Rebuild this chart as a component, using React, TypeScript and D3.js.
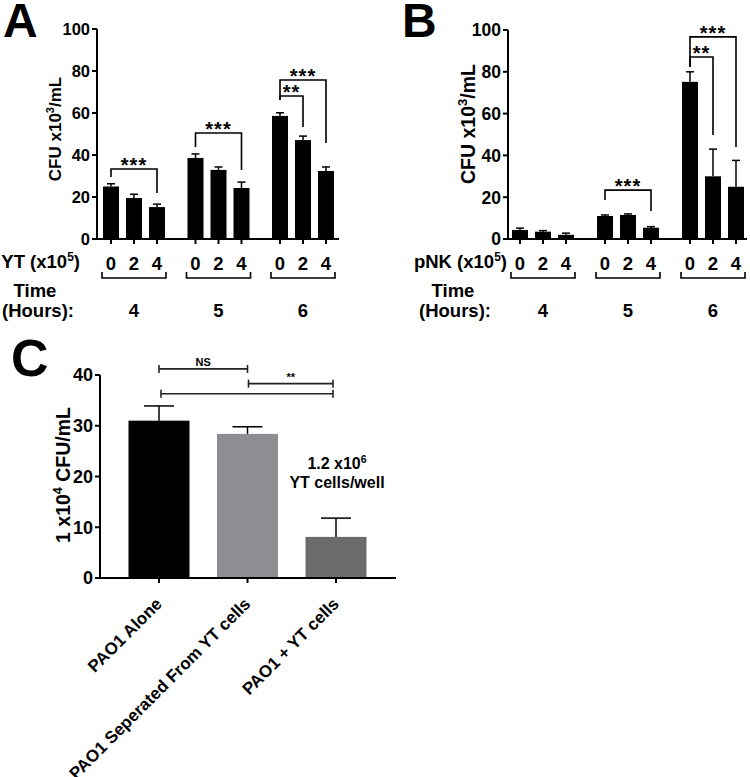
import React from "react";
import * as d3 from "d3";

const FONT = "'Liberation Sans', Arial, Helvetica, sans-serif";

// ---------- Panels A & B data ----------
const doses = ["0", "2", "4"];
const hours = ["4", "5", "6"];
const yTicksAB = [0, 20, 40, 60, 80, 100];

const ytMean = [
  [25, 19.5, 15.2],
  [38.6, 32.9, 24.3],
  [58.6, 47.1, 32.4],
];
const ytErr = [
  [1.3, 1.8, 1.4],
  [1.9, 1.4, 2.8],
  [1.5, 1.9, 1.9],
];
const pnkMean = [
  [4.3, 3.5, 2.0],
  [11.0, 11.5, 5.4],
  [75.2, 30.0, 25.0],
];
const pnkErr = [
  [0.9, 0.5, 0.8],
  [0.5, 0.5, 0.5],
  [4.8, 13.0, 12.6],
];

type Sig = { g: number; a: number; b: number; top: number; left: number; right: number; label: string };

const sigA: Sig[] = [
  { g: 0, a: 0, b: 2, top: 33.3, left: 29.5, right: 21.9, label: "***" },
  { g: 1, a: 0, b: 2, top: 50.5, left: 43.8, right: 32.9, label: "***" },
  { g: 2, a: 0, b: 2, top: 75.7, left: 66.2, right: 45.7, label: "***" },
  { g: 2, a: 0, b: 1, top: 68.1, left: 66.2, right: 53.3, label: "**" },
];
const sigB: Sig[] = [
  { g: 1, a: 0, b: 2, top: 23.4, left: 18.7, right: 13.4, label: "***" },
  { g: 2, a: 0, b: 2, top: 96.7, left: 82.3, right: 44.0, label: "***" },
  { g: 2, a: 0, b: 1, top: 87.1, left: 82.3, right: 49.8, label: "**" },
];

// ---------- Panel C data ----------
const cCats = ["PAO1 Alone", "PAO1 Seperated From YT cells", "PAO1 + YT cells"];
const cMean = [31.0, 28.4, 8.1];
const cErr = [2.9, 1.4, 3.7];
const cColors = ["#000000", "#8e8e92", "#6c6c6c"];
const cTicks = [0, 10, 20, 30, 40];
const cSig = [
  { a: 0, b: 1, level: 41.2, label: "NS" },
  { a: 1, b: 2, level: 38.3, label: "**" },
  { a: 0, b: 2, level: 36.3, label: "" },
];

type PanelCfg = {
  letter: string;
  letterX: number;
  axisX: number;
  xEnd: number;
  yTop: number;
  yBottom: number;
  groupRange: [number, number];
  spread: number;
  barW: number;
  means: number[][];
  errs: number[][];
  sigs: Sig[];
  tickFont: number;
  yLabelFont: number;
  yLabelX: number;
  yLabelY: number;
  doseLabel: string;
  doseLabelEnd: number;
  timeX: number;
  hoursX: number;
};

function GroupedPanel(p: PanelCfg) {
  const y = d3.scaleLinear().domain([0, 100]).range([p.yBottom, p.yTop]);
  const gx = d3.scalePoint<string>().domain(hours).range(p.groupRange);
  const dx = d3.scalePoint<string>().domain(doses).range([-p.spread, p.spread]);
  const bx = (g: number, d: number) => (gx(hours[g]) as number) + (dx(doses[d]) as number);
  const sw = 2;
  const supF = Math.round(p.yLabelFont * 0.65);
  return (
    <g fontFamily={FONT} fontWeight="bold" fill="#000">
      <text x={p.letterX} y={37} fontSize={48}>{p.letter}</text>
      {/* bars */}
      {p.means.map((row, g) =>
        row.map((v, d) => {
          const cx = bx(g, d);
          const top = y(v + p.errs[g][d]);
          return (
            <g key={`b${g}${d}`}>
              <rect x={cx - p.barW / 2} y={y(v)} width={p.barW} height={y(0) - y(v)} fill="#000" />
              <line x1={cx} x2={cx} y1={y(v)} y2={top} stroke="#000" strokeWidth={1.5} />
              <line x1={cx - 4} x2={cx + 4} y1={top} y2={top} stroke="#000" strokeWidth={1.5} />
            </g>
          );
        })
      )}
      {/* axes */}
      <line x1={p.axisX} x2={p.axisX} y1={p.yTop} y2={p.yBottom + 1} stroke="#000" strokeWidth={sw} />
      <line x1={p.axisX - 1} x2={p.xEnd} y1={p.yBottom} y2={p.yBottom} stroke="#000" strokeWidth={sw} />
      {yTicksAB.map((t) => (
        <g key={`t${t}`}>
          <line x1={p.axisX - 5} x2={p.axisX} y1={y(t)} y2={y(t)} stroke="#000" strokeWidth={sw} />
          <text x={p.axisX - 7} y={y(t)} dy="0.36em" textAnchor="end" fontSize={p.tickFont}>{t}</text>
        </g>
      ))}
      {hours.map((h, g) =>
        doses.map((d, di) => (
          <line key={`xt${g}${di}`} x1={bx(g, di)} x2={bx(g, di)} y1={p.yBottom} y2={p.yBottom + 5} stroke="#000" strokeWidth={sw} />
        ))
      )}
      {/* y label */}
      <text transform={`translate(${p.yLabelX},${p.yLabelY}) rotate(-90)`} textAnchor="middle" fontSize={p.yLabelFont}>
        CFU x10<tspan dy={-p.yLabelFont * 0.4} fontSize={supF}>3</tspan>
        <tspan dy={p.yLabelFont * 0.4}>/mL</tspan>
      </text>
      {/* significance brackets */}
      {p.sigs.map((s, i) => {
        const x1 = bx(s.g, s.a);
        const x2 = bx(s.g, s.b);
        const yt = y(s.top);
        return (
          <g key={`s${i}`}>
            <path
              d={`M${x1},${y(s.left)}V${yt}H${x2}V${y(s.right)}`}
              fill="none"
              stroke="#000"
              strokeWidth={1.6}
            />
            <text x={(x1 + x2) / 2} y={yt + 3} textAnchor="middle" fontSize={20} letterSpacing={1}>{s.label}</text>
          </g>
        );
      })}
      {/* x labels */}
      <text x={p.doseLabelEnd} y={268} textAnchor="end" fontSize={18.5}>
        {p.doseLabel} (x10<tspan dy={-7} fontSize={12}>5</tspan><tspan dy={7}>)</tspan>
      </text>
      {hours.map((h, g) => (
        <g key={`xl${g}`}>
          {doses.map((d, di) => (
            <text key={di} x={bx(g, di)} y={270} textAnchor="middle" fontSize={18.5}>{d}</text>
          ))}
          <path
            d={`M${bx(g, 0) - p.barW / 2 - 1},272V278H${bx(g, 2) + p.barW / 2 + 1}V272`}
            fill="none"
            stroke="#000"
            strokeWidth={1.6}
          />
          <text x={gx(h)} y={317} textAnchor="middle" fontSize={18.5}>{h}</text>
        </g>
      ))}
      <text x={p.timeX} y={297} textAnchor="middle" fontSize={18.5}>Time</text>
      <text x={p.hoursX} y={317} textAnchor="middle" fontSize={18.5}>(Hours):</text>
    </g>
  );
}

function PanelC() {
  const y = d3.scaleLinear().domain([0, 40]).range([578, 375]);
  const x = d3.scalePoint<string>().domain(cCats).range([159, 336]);
  const barW = 61;
  const axisX = 100;
  return (
    <g fontFamily={FONT} fontWeight="bold" fill="#000">
      <text x={11} y={376} fontSize={52}>C</text>
      {cCats.map((c, i) => {
        const cx = x(c) as number;
        const top = y(cMean[i] + cErr[i]);
        return (
          <g key={c}>
            <rect x={cx - barW / 2} y={y(cMean[i])} width={barW} height={y(0) - y(cMean[i])} fill={cColors[i]} />
            <line x1={cx} x2={cx} y1={y(cMean[i])} y2={top} stroke="#000" strokeWidth={1.5} />
            <line x1={cx - 15} x2={cx + 15} y1={top} y2={top} stroke="#000" strokeWidth={1.5} />
          </g>
        );
      })}
      <line x1={axisX} x2={axisX} y1={375} y2={579} stroke="#000" strokeWidth={2} />
      <line x1={axisX - 1} x2={396} y1={578} y2={578} stroke="#000" strokeWidth={2} />
      {cTicks.map((t) => (
        <g key={t}>
          <line x1={axisX - 5} x2={axisX} y1={y(t)} y2={y(t)} stroke="#000" strokeWidth={2} />
          <text x={axisX - 7} y={y(t)} dy="0.36em" textAnchor="end" fontSize={18}>{t}</text>
        </g>
      ))}
      {cCats.map((c) => {
        const cx = x(c) as number;
        return (
          <g key={`xl${c}`}>
            <line x1={cx} x2={cx} y1={578} y2={583} stroke="#000" strokeWidth={2} />
            <text transform={`translate(${cx + 4},${605}) rotate(-45)`} textAnchor="end" fontSize={17}>{c}</text>
          </g>
        );
      })}
      <text transform={`translate(70,475) rotate(-90)`} textAnchor="middle" fontSize={19.5}>
        1 x10<tspan dy={-8} fontSize={12.5}>4</tspan>
        <tspan dy={8}> CFU/mL</tspan>
      </text>
      {cSig.map((s, i) => {
        const x1 = (x(cCats[s.a]) as number) + (i === 2 ? 2 : i === 1 ? 1 : 0);
        const x2 = (x(cCats[s.b]) as number) - (s.b === 2 ? 3 : 0);
        const yl = y(s.level);
        return (
          <g key={`cs${i}`}>
            <line x1={x1} x2={x2} y1={yl} y2={yl} stroke="#222" strokeWidth={1.6} />
            <line x1={x1} x2={x1} y1={yl - 4} y2={yl + 4} stroke="#222" strokeWidth={1.6} />
            <line x1={x2} x2={x2} y1={yl - 4} y2={yl + 4} stroke="#222" strokeWidth={1.6} />
            {s.label && (
              <text x={(x1 + x2) / 2} y={yl - 3} textAnchor="middle" fontSize={11}>{s.label}</text>
            )}
          </g>
        );
      })}
      <text x={337} y={469} textAnchor="middle" fontSize={16}>
        1.2 x10<tspan dy={-6} fontSize={10.5}>6</tspan>
      </text>
      <text x={337} y={488} textAnchor="middle" fontSize={16}>YT cells/well</text>
    </g>
  );
}

export default function App() {
  return (
    <svg
      width={750}
      height={777}
      viewBox="0 0 750 777"
      style={{ position: "absolute", left: 0, top: 0, background: "#fff" }}
    >
      <rect width={750} height={777} fill="#fff" />
      <GroupedPanel
        letter="A"
        letterX={3}
        axisX={97}
        xEnd={339}
        yTop={29}
        yBottom={239}
        groupRange={[134, 303]}
        spread={23}
        barW={16}
        means={ytMean}
        errs={ytErr}
        sigs={sigA}
        tickFont={16.5}
        yLabelFont={17}
        yLabelX={61}
        yLabelY={129}
        doseLabel="YT"
        doseLabelEnd={80}
        timeX={35}
        hoursX={38}
      />
      <GroupedPanel
        letter="B"
        letterX={402}
        axisX={508}
        xEnd={747}
        yTop={30}
        yBottom={239}
        groupRange={[543, 713]}
        spread={23}
        barW={16}
        means={pnkMean}
        errs={pnkErr}
        sigs={sigB}
        tickFont={17.5}
        yLabelFont={19.5}
        yLabelX={475}
        yLabelY={124}
        doseLabel="pNK"
        doseLabelEnd={507}
        timeX={453}
        hoursX={455}
      />
      <PanelC />
    </svg>
  );
}
